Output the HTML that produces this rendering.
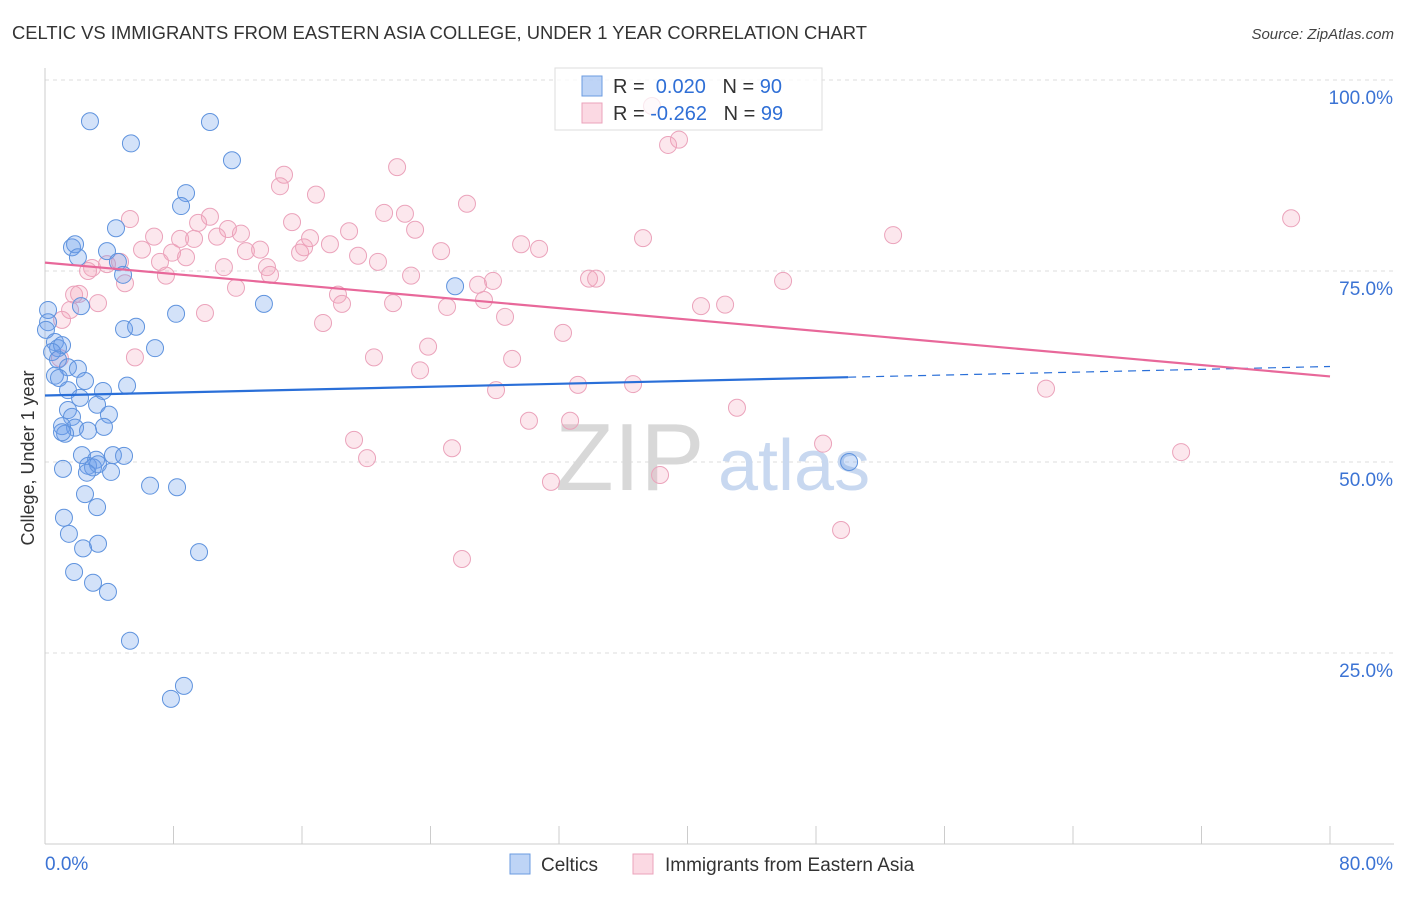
<!DOCTYPE html>
<html><head><meta charset="utf-8"><style>
body{margin:0;background:#fff;font-family:"Liberation Sans",sans-serif;}
svg text{font-family:"Liberation Sans",sans-serif;}
</style></head><body>
<svg id="chart" width="1406" height="892" viewBox="0 0 1406 892" xmlns="http://www.w3.org/2000/svg">
<text x="12" y="39" font-size="18.4" fill="#333">CELTIC VS IMMIGRANTS FROM EASTERN ASIA COLLEGE, UNDER 1 YEAR CORRELATION CHART</text>
<text x="1394" y="39" font-size="15" fill="#444" text-anchor="end" font-style="italic">Source: ZipAtlas.com</text>
<g id="grid"></g>
<text x="555" y="490" font-size="96" fill="#d8d8d8" font-family="Liberation Serif, serif">ZIP</text>
<text x="718" y="490" font-size="72" fill="#c8d8f0">atlas</text>
<g id="axes"></g>
<g id="marks"></g>
<text transform="translate(34,458) rotate(-90)" font-size="18" fill="#333" text-anchor="middle">College, Under 1 year</text>
<g>
<rect x="555" y="68" width="267" height="62" fill="rgba(255,255,255,0.75)" stroke="#ddd"/>
<rect x="582" y="76" width="20" height="20" fill="rgba(110,160,235,0.45)" stroke="#6b9be0"/>
<rect x="582" y="103" width="20" height="20" fill="rgba(245,160,185,0.4)" stroke="#eba3bb"/>
<text x="613" y="93" font-size="20" fill="#333">R = <tspan fill="#2f6fd6">&#160;0.020</tspan>&#160;&#160;&#160;N = <tspan fill="#2f6fd6">90</tspan></text>
<text x="613" y="120" font-size="20" fill="#333">R = <tspan fill="#2f6fd6">-0.262</tspan>&#160;&#160;&#160;N = <tspan fill="#2f6fd6">99</tspan></text>
</g>
<g>
<rect x="510" y="854" width="20" height="20" fill="rgba(110,160,235,0.45)" stroke="#6b9be0"/>
<text x="541" y="871" font-size="19" fill="#333">Celtics</text>
<rect x="633" y="854" width="20" height="20" fill="rgba(245,160,185,0.4)" stroke="#eba3bb"/>
<text x="665" y="871" font-size="19" fill="#333">Immigrants from Eastern Asia</text>
</g>
</svg>
<script>
const xTicks=[0,8,16,24,32,40,48,56,64,72,80];
const yTicks=[25,50,75,100];
const yTickLabels=["25.0%","50.0%","75.0%","100.0%"];
const xTickLabels=["0.0%","80.0%"];
const celticsX=[2.80,5.35,10.27,11.64,8.78,8.47,4.42,1.68,1.87,2.05,3.86,4.54,4.86,0.19,2.24,0.19,0.06,8.16,13.63,4.92,5.67,6.85,0.62,0.81,1.06,0.44,0.81,1.43,2.05,0.62,0.87,2.49,5.11,3.61,1.43,2.18,3.24,1.43,3.98,1.68,1.06,1.87,1.25,2.68,3.67,1.06,2.30,4.23,4.92,3.18,2.68,2.99,3.30,1.12,4.11,2.61,6.54,8.22,2.49,3.24,1.18,1.49,3.30,2.37,9.59,1.81,2.99,3.92,5.29,8.65,7.84,25.53,50.06];
const celticsY=[94.6,91.7,94.5,89.5,85.2,83.5,80.6,78.1,78.5,76.8,77.6,76.2,74.5,69.9,70.4,68.3,67.3,69.4,70.7,67.4,67.7,64.9,65.7,64.9,65.3,64.4,63.4,62.4,62.2,61.3,61.0,60.6,60.0,59.3,59.4,58.4,57.5,56.8,56.2,55.9,54.7,54.5,53.7,54.1,54.6,53.9,50.9,50.9,50.8,50.3,49.5,49.3,49.7,49.1,48.7,48.6,46.9,46.7,45.8,44.1,42.7,40.6,39.3,38.7,38.2,35.6,34.2,33.0,26.6,20.7,19.0,73.0,50.0];
const immX=[37.79,39.47,38.79,21.92,14.88,14.63,16.87,26.27,77.58,5.29,21.11,22.41,10.27,15.38,11.39,9.53,18.93,23.04,6.79,8.41,9.28,10.71,12.20,16.50,17.74,29.64,30.76,37.23,52.80,24.66,6.04,7.91,12.51,13.39,15.88,16.13,19.49,20.73,8.78,7.16,4.67,3.86,2.93,2.68,11.14,13.82,14.01,7.53,22.79,4.98,11.89,18.24,27.89,26.96,33.87,34.31,45.95,27.33,21.67,18.49,25.03,28.64,40.84,42.34,1.81,2.12,1.56,3.30,1.06,9.96,17.31,32.25,23.85,0.93,5.60,29.08,20.48,23.35,33.18,36.61,28.08,62.32,43.08,30.13,32.69,19.24,20.05,25.34,48.44,70.73,38.29,31.50,49.56,25.96];
const immY=[96.6,92.2,91.5,88.6,87.6,86.1,85.0,83.8,81.9,81.8,82.6,82.5,82.1,81.4,80.5,81.3,80.2,80.4,79.5,79.2,79.2,79.5,79.9,79.3,78.5,78.5,77.9,79.3,79.7,77.6,77.8,77.4,77.6,77.8,77.4,78.1,77.0,76.2,76.8,76.2,76.2,75.9,75.4,75.0,75.5,75.5,74.5,74.4,74.4,73.4,72.8,71.9,73.7,73.2,74.0,74.0,73.7,71.2,70.8,70.7,70.3,69.0,70.4,70.6,71.9,72.0,69.9,70.8,68.6,69.5,68.2,66.9,65.1,63.6,63.7,63.5,63.7,62.0,60.1,60.2,59.4,59.6,57.1,55.4,55.4,52.9,50.5,51.8,52.4,51.3,48.3,47.4,41.1,37.3];
const celticsTrendX=[0,50,80];
const celticsTrendY=[58.7,61.1,62.5];
const immTrendX=[0,80];
const immTrendY=[76.1,61.2];
const NS="http://www.w3.org/2000/svg";
const sx=v=>45+v*(1330-45)/80;
const sy=v=>844-v*7.64;
function mk(tag,attrs,parent){const e=document.createElementNS(NS,tag);for(const k in attrs)e.setAttribute(k,attrs[k]);parent.appendChild(e);return e;}
const grid=document.getElementById('grid'),axes=document.getElementById('axes'),marks=document.getElementById('marks');
yTicks.forEach((t,i)=>{
 const l=mk('line',{x1:45,x2:1394,y1:sy(t),y2:sy(t),stroke:'#ddd','stroke-dasharray':'4,4'},grid);
 
 
 const tx=mk('text',{x:1393,y:sy(t)+24,'font-size':19,fill:'#3b73d4','text-anchor':'end'},axes);
 tx.textContent=yTickLabels[i];
 
 
});
const ax=mk('line',{x1:45,x2:45,y1:68,y2:844,stroke:'#ccc'},axes);


const bx=mk('line',{x1:45,x2:1394,y1:844,y2:844,stroke:'#ccc'},axes);


xTicks.forEach(t=>{
 const l=mk('line',{x1:sx(t),x2:sx(t),y1:826,y2:844,stroke:'#ccc'},axes);
 
 
});
const xl0=mk('text',{x:45,y:870,'font-size':19,fill:'#3b73d4'},axes);xl0.textContent=xTickLabels[0];


const xl1=mk('text',{x:1393,y:870,'font-size':19,fill:'#3b73d4','text-anchor':'end'},axes);xl1.textContent=xTickLabels[1];


immX.forEach((x,i)=>{
 const c=mk('circle',{cx:sx(x),cy:sy(immY[i]),r:8.5,fill:'rgba(245,160,185,0.25)',stroke:'#eba3bb','stroke-width':1},marks);
 
 
});
celticsX.forEach((x,i)=>{
 const c=mk('circle',{cx:sx(x),cy:sy(celticsY[i]),r:8.5,fill:'rgba(110,160,235,0.3)',stroke:'#5f93de','stroke-width':1},marks);
 
 
});
const t1=mk('line',{x1:sx(celticsTrendX[0]),y1:sy(celticsTrendY[0]),x2:sx(celticsTrendX[1]),y2:sy(celticsTrendY[1]),stroke:'#2a6fd8','stroke-width':2.2},marks);


const t2=mk('line',{x1:sx(celticsTrendX[1]),y1:sy(celticsTrendY[1]),x2:sx(celticsTrendX[2]),y2:sy(celticsTrendY[2]),stroke:'#2a6fd8','stroke-width':1.2,'stroke-dasharray':'8,6'},marks);


const t3=mk('line',{x1:sx(immTrendX[0]),y1:sy(immTrendY[0]),x2:sx(immTrendX[1]),y2:sy(immTrendY[1]),stroke:'#e8689a','stroke-width':2.2},marks);


</script>
</body></html>
